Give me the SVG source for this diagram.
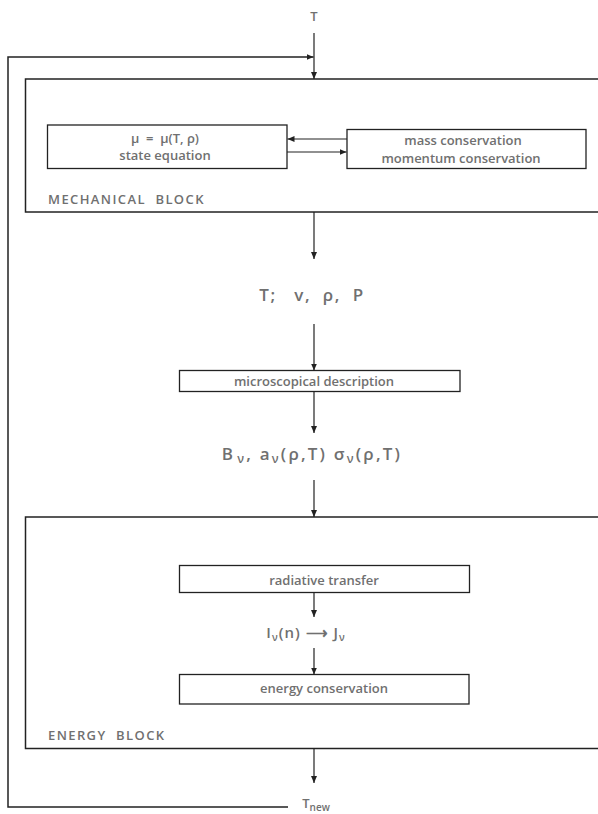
<svg xmlns="http://www.w3.org/2000/svg" width="598" height="814" viewBox="0 0 598 814">
<style>
.box{fill:none;stroke:#222;stroke-width:1.3}
.blk{fill:none;stroke:#222;stroke-width:1.5}
.ln{fill:none;stroke:#222;stroke-width:1.2}
text{font-family:"Open Sans","Liberation Sans",sans-serif;fill:#707070;font-weight:600}
.t{font-size:13px;text-anchor:middle}
.lbl{font-size:13px;letter-spacing:1.4px}
.big{font-size:17px;text-anchor:middle;letter-spacing:1.5px}
</style>
<defs>
<marker id="ah" markerWidth="8" markerHeight="8" refX="7" refY="4" orient="auto" markerUnits="userSpaceOnUse">
<path d="M0,1 L7,4 L0,7 z" fill="#222"/>
</marker>
</defs>
<rect width="598" height="814" fill="#fff"/>
<g id="T-in"><text class="t" x="314" y="21">T</text></g>
<g id="mechanical-block">
<rect class="blk" x="25.5" y="79" width="580" height="133"/>
<text class="lbl" x="48" y="204" xml:space="preserve">MECHANICAL  BLOCK</text>
</g>
<g id="state-eq">
<rect class="box" x="47.5" y="125" width="239.5" height="43.5"/>
<text class="t" x="165" y="143" xml:space="preserve">μ  =  μ(T, ρ)</text>
<text class="t" x="165" y="160">state equation</text>
</g>
<g id="conservation">
<rect class="box" x="347" y="129.5" width="239" height="39"/>
<text class="t" x="463" y="145">mass conservation</text>
<text class="t" x="461" y="163">momentum conservation</text>
</g>
<g id="state-vars"><text class="big" x="312" y="301" xml:space="preserve">T;   v,  ρ,  P</text></g>
<g id="micro">
<rect class="box" x="179.5" y="370.5" width="280.5" height="21"/>
<text class="t" x="314" y="385.5">microscopical description</text>
</g>
<g id="coeffs"><text class="big" x="312" y="460" style="letter-spacing:2.2px">B<tspan font-size="12" dx="2" dy="3">ν</tspan><tspan dy="-3">, a</tspan><tspan font-size="12" dy="3">ν</tspan><tspan dy="-3">(ρ,T) σ</tspan><tspan font-size="12" dy="3">ν</tspan><tspan dy="-3">(ρ,T)</tspan></text></g>
<g id="energy-block">
<rect class="blk" x="25.5" y="517" width="580" height="231.5"/>
<text class="lbl" x="48" y="740" xml:space="preserve">ENERGY  BLOCK</text>
</g>
<g id="radiative">
<rect class="box" x="179.5" y="565.5" width="290" height="27"/>
<text class="t" x="324" y="585">radiative transfer</text>
</g>
<g id="intensity"><text class="t" x="306" y="638" style="font-size:15px;letter-spacing:1px">I<tspan font-size="10" dy="3">ν</tspan><tspan dy="-3">(n) ⟶ J</tspan><tspan font-size="10" dy="3">ν</tspan></text></g>
<g id="energy-cons">
<rect class="box" x="179.5" y="674.5" width="289.5" height="29.5"/>
<text class="t" x="324" y="693">energy conservation</text>
</g>
<g id="T-new"><text class="t" x="316" y="808">T<tspan font-size="10" dy="3">new</tspan></text></g>
<g id="connectors">
<line class="ln" x1="314" y1="33" x2="314" y2="79" marker-end="url(#ah)"/>
<polyline class="ln" points="288,807 8,807 8,57 313.5,57" marker-end="url(#ah)" style="stroke-width:1.5"/>
<line class="ln" x1="347" y1="139" x2="287.5" y2="139" marker-end="url(#ah)"/>
<line class="ln" x1="287" y1="152" x2="346.5" y2="152" marker-end="url(#ah)"/>
<line class="ln" x1="314" y1="212" x2="314" y2="259" marker-end="url(#ah)"/>
<line class="ln" x1="314" y1="324" x2="314" y2="370.5" marker-end="url(#ah)"/>
<line class="ln" x1="314" y1="391.5" x2="314" y2="433" marker-end="url(#ah)"/>
<line class="ln" x1="314" y1="480" x2="314" y2="517" marker-end="url(#ah)"/>
<line class="ln" x1="314" y1="592.5" x2="314" y2="617" marker-end="url(#ah)"/>
<line class="ln" x1="314" y1="648" x2="314" y2="674.5" marker-end="url(#ah)"/>
<line class="ln" x1="314" y1="748.5" x2="314" y2="783" marker-end="url(#ah)"/>
</g>
</svg>
